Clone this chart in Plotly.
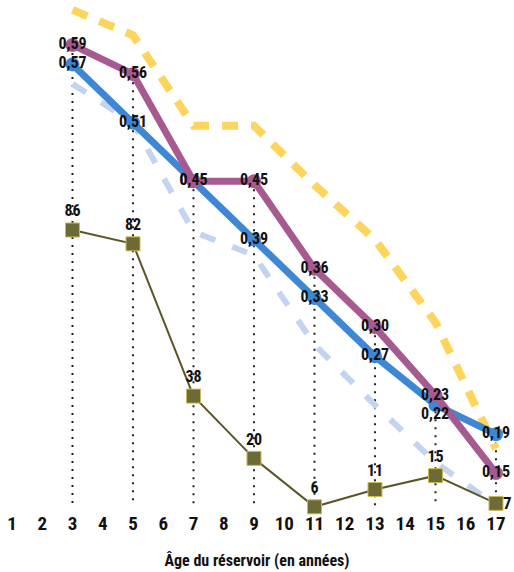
import plotly.graph_objects as go

ages = [3, 5, 7, 9, 11, 13, 15, 17]
tick_values = list(range(1, 18))
tick_labels = [str(i) for i in tick_values]
purple_vals = [0.59, 0.56, 0.45, 0.45, 0.36, 0.30, 0.23, 0.15]
blue_vals = [0.57, 0.51, 0.45, 0.39, 0.33, 0.27, 0.22, 0.19]
yellow_vals = [0.626, 0.60, 0.507, 0.507, 0.446, 0.39, 0.305, 0.175]
lightblue_vals = [0.55, 0.51, 0.398, 0.374, 0.282, 0.22, 0.161, 0.117]
olive_vals = [86, 82, 38, 20, 6, 11, 15, 7]

def fmt(v):
    return f"{v:.2f}".replace(".", ",")

FONT = ("Liberation Sans Narrow, Roboto Condensed, Noto Sans Condensed, "
        "Open Sans Condensed, DejaVu Sans Condensed, sans-serif")
PURPLE = "#a65a90"
BLUE = "#3d87d5"
YELLOW = "#fdd45c"
LIGHTBLUE = "#c3d4f0"
OLIVE_LINE = "#5a5628"
OLIVE_FILL = "#6d6a35"
LABEL_FONT = dict(family=FONT, size=16, color="#111111", weight="bold")

fig = go.Figure()

# dotted verticals from the top marker down to the bottom
dx, dy = [], []
bottom = 0.117
for a, p, b in zip(ages, purple_vals, blue_vals):
    dx += [a, a, None]
    dy += [max(p, b), bottom, None]
fig.add_trace(go.Scatter(x=dx, y=dy, mode="lines", yaxis="y",
                         line=dict(color="#222222", width=2, dash="2px,6px"),
                         hoverinfo="skip", showlegend=False))

fig.add_trace(go.Scatter(x=ages, y=yellow_vals, mode="lines", yaxis="y",
                         line=dict(color=YELLOW, width=8, dash="16px,13px"),
                         showlegend=False, cliponaxis=False))
fig.add_trace(go.Scatter(x=ages, y=lightblue_vals, mode="lines", yaxis="y",
                         line=dict(color=LIGHTBLUE, width=6, dash="16px,18px"),
                         showlegend=False, cliponaxis=False))

last = len(ages) - 1
olive_text = [str(v) if i != last else "" for i, v in enumerate(olive_vals)]
fig.add_trace(go.Scatter(x=ages, y=olive_vals, mode="lines+markers+text", yaxis="y2",
                         line=dict(color=OLIVE_LINE, width=2),
                         marker=dict(symbol="square", size=14, color=OLIVE_FILL,
                                     line=dict(color="#c9bb55", width=1)),
                         text=olive_text, textposition="top center",
                         textfont=LABEL_FONT,
                         showlegend=False, cliponaxis=False))
fig.add_annotation(x=ages[last], y=olive_vals[last], xref="x", yref="y2",
                   text=str(olive_vals[last]), showarrow=False, xshift=12,
                   font=dict(family=FONT, size=17, color="#111111", weight="bold"))

# labels at age 15 are handled as shifted annotations (they sit on top of each other)
crowded = 15
blue_text = [fmt(v) if a != crowded else "" for a, v in zip(ages, blue_vals)]
purple_text = [fmt(v) if a != crowded else "" for a, v in zip(ages, purple_vals)]

fig.add_trace(go.Scatter(x=ages, y=blue_vals, mode="lines+markers+text", yaxis="y",
                         line=dict(color=BLUE, width=7),
                         marker=dict(symbol="circle", size=14, color=BLUE),
                         text=blue_text, textposition="middle center",
                         textfont=LABEL_FONT,
                         showlegend=False, cliponaxis=False))
fig.add_trace(go.Scatter(x=ages, y=purple_vals, mode="lines+markers+text", yaxis="y",
                         line=dict(color=PURPLE, width=7),
                         marker=dict(symbol="circle", size=14, color=PURPLE),
                         text=purple_text, textposition="middle center",
                         textfont=LABEL_FONT,
                         showlegend=False, cliponaxis=False))

i15 = ages.index(crowded)
fig.add_annotation(x=crowded, y=purple_vals[i15], xref="x", yref="y",
                   text=fmt(purple_vals[i15]), showarrow=False, yshift=1,
                   font=LABEL_FONT)
fig.add_annotation(x=crowded, y=blue_vals[i15], xref="x", yref="y",
                   text=fmt(blue_vals[i15]), showarrow=False, yshift=-8,
                   font=LABEL_FONT)

fig.update_layout(
    width=514, height=572,
    margin=dict(l=0, r=0, t=0, b=62),
    paper_bgcolor="white", plot_bgcolor="white",
    hovermode=False,
    xaxis=dict(range=[0.603, 17.596], tickmode="array",
               tickvals=tick_values, ticktext=tick_labels,
               showgrid=False, zeroline=False, showline=False, ticks="",
               ticklabeloverflow="allow",
               tickfont=dict(family=FONT, size=19, color="#111111", weight="bold"),
               title=dict(text="Âge du réservoir (en années)", standoff=20,
                          font=dict(family=FONT, size=16, color="#111111", weight="bold"))),
    yaxis=dict(range=[0.1121, 0.6362], visible=False, showgrid=False, zeroline=False),
    yaxis2=dict(range=[5.08, 152.47], overlaying="y", side="right", visible=False,
                showgrid=False, zeroline=False),
)

fig.write_html("out.html",
               config={"displayModeBar": False},
               post_script="document.body.style.margin='0px';"
                           "document.body.style.overflow='hidden';")
